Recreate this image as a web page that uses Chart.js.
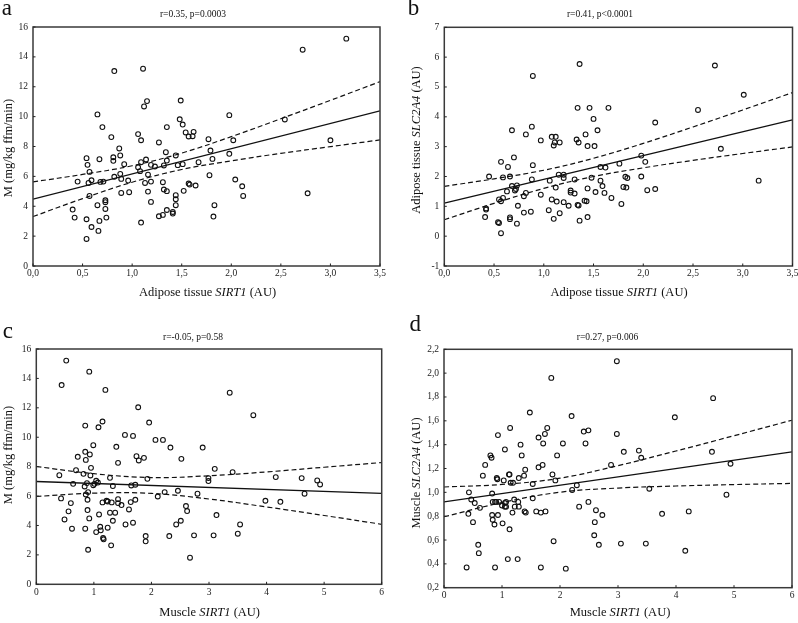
<!DOCTYPE html>
<html><head><meta charset="utf-8">
<script src="https://cdn.jsdelivr.net/npm/chart.js@4.4.0/dist/chart.umd.min.js"></script>
<style>
html,body{margin:0;padding:0;background:#fff;}
#wrap{position:relative;width:798px;height:623px;overflow:hidden;background:#fff;font-family:"Liberation Serif","Times New Roman",serif;color:#111;}
#wrap canvas{position:absolute;}
.t{position:absolute;white-space:nowrap;line-height:1;}
.letter{font-size:23px;}
.rt{font-size:9.5px;transform:translateX(-50%);}
.xt{font-size:12.5px;transform:translateX(-50%);}
.yt{font-size:12.5px;transform:translate(-50%,-50%) rotate(-90deg);}
</style></head>
<body>
<div id="wrap">
  <canvas id="ca" width="400" height="300" style="left:0;top:0"></canvas>
  <canvas id="cb" width="410" height="300" style="left:400px;top:0"></canvas>
  <canvas id="cc" width="400" height="323" style="left:0;top:300px"></canvas>
  <canvas id="cd" width="410" height="323" style="left:400px;top:300px"></canvas>

  <div class="t letter" style="left:1.7px;top:-4.3px">a</div>
  <div class="t letter" style="left:407.8px;top:-4.3px">b</div>
  <div class="t letter" style="left:2.8px;top:318.7px">c</div>
  <div class="t letter" style="left:409.5px;top:311.7px">d</div>

  <div class="t rt" style="left:193px;top:10.3px">r=0.35, p=0.0003</div>
  <div class="t rt" style="left:600px;top:10.3px">r=0.41, p&lt;0.0001</div>
  <div class="t rt" style="left:193px;top:333px">r=-0.05, p=0.58</div>
  <div class="t rt" style="left:607.5px;top:333px">r=0.27, p=0.006</div>

  <div class="t xt" style="left:207.5px;top:286.2px">Adipose tissue <i>SIRT1</i> (AU)</div>
  <div class="t xt" style="left:619px;top:286.2px">Adipose tissue <i>SIRT1</i> (AU)</div>
  <div class="t xt" style="left:209.7px;top:606px">Muscle <i>SIRT1</i> (AU)</div>
  <div class="t xt" style="left:620px;top:605.5px">Muscle <i>SIRT1</i> (AU)</div>

  <div class="t yt" style="left:7.8px;top:148.3px">M (mg/kg ffm/min)</div>
  <div class="t yt" style="left:415.8px;top:140px">Adipose tissue <i>SLC2A4</i> (AU)</div>
  <div class="t yt" style="left:7.8px;top:455px">M (mg/kg ffm/min)</div>
  <div class="t yt" style="left:415.8px;top:472.5px">Muscle <i>SLC2A4</i> (AU)</div>
</div>
<script>
// ---------- Panel a: adipose SIRT1 vs M ----------
const aSirt1 = [3.16,2.72,0.82,1.11,1.49,1.15,1.12,0.65,1.98,1.48,2.54,1.51,0.70,1.35,1.54,1.62,1.57,1.61,0.79,1.06,1.09,1.77,2.02,3.00,1.27,0.87,1.79,1.34,0.88,1.44,1.98,0.81,0.81,0.54,0.67,1.14,1.09,1.81,1.35,1.67,0.92,0.55,1.19,1.23,1.06,1.32,1.46,1.51,1.08,0.57,0.88,1.16,1.78,0.82,0.89,0.45,0.59,0.68,0.71,0.96,1.19,1.31,2.04,0.56,1.13,1.57,1.58,1.64,2.11,1.32,1.52,1.35,1.16,0.97,0.89,2.77,1.44,0.57,2.12,1.44,0.73,0.73,1.19,0.65,1.44,1.83,0.40,0.73,1.35,1.41,1.41,1.31,0.42,0.74,1.27,1.82,0.54,0.67,0.59,0.66,1.09,0.54];
const aM = [15.22,14.48,13.05,13.21,11.08,11.04,10.68,10.15,10.10,9.82,9.81,9.47,9.30,9.30,8.94,8.98,8.67,8.69,8.63,8.83,8.42,8.49,8.42,8.42,8.27,7.87,7.73,7.62,7.40,7.40,7.51,7.28,7.04,7.22,7.15,7.13,6.95,7.17,7.06,6.95,6.82,6.77,6.77,6.66,6.61,6.73,6.75,6.82,6.35,6.30,6.17,6.12,6.08,5.97,5.83,5.65,5.74,5.63,5.65,5.72,5.65,5.61,5.79,5.56,5.56,5.52,5.45,5.39,5.34,5.12,5.03,5.01,4.98,4.94,4.89,4.87,4.74,4.69,4.69,4.47,4.40,4.27,4.29,4.07,4.07,4.07,3.78,3.82,3.75,3.62,3.51,3.42,3.24,3.24,3.33,3.31,3.13,3.02,2.61,2.35,2.91,1.81];
const aFitX = [0, 3.5];
const aFitY = [4.47, 10.39];
const aBandX = [0, 0.5, 1, 1.5, 2, 2.5, 3, 3.5];
const aUpper = [5.63, 6.13, 6.71, 7.56, 8.66, 9.86, 11.09, 12.34];
const aLower = [3.31, 4.51, 5.61, 6.46, 7.04, 7.54, 7.99, 8.44];

// ---------- Panel b: adipose SIRT1 vs adipose SLC2A4 ----------
const bSirt1 = [0.89,1.36,2.72,3.01,2.55,1.34,1.46,1.65,2.12,1.50,1.54,0.68,0.88,0.82,1.42,0.97,1.08,1.12,1.33,1.35,1.10,1.11,1.16,1.44,1.51,2.78,0.70,1.98,0.57,2.02,1.76,0.89,0.64,1.57,1.62,0.45,0.59,0.66,1.15,1.20,1.98,1.82,1.84,1.20,1.48,0.88,1.06,1.31,1.57,3.16,0.68,0.73,1.59,1.80,1.83,1.12,0.71,0.72,0.63,1.27,1.27,1.44,2.04,2.12,1.52,0.82,1.31,1.61,0.80,0.59,1.68,0.97,0.55,0.57,1.08,1.41,1.43,1.13,1.20,1.78,0.74,1.25,1.34,1.35,0.42,0.42,0.80,0.87,1.05,1.16,0.66,0.41,1.44,0.66,1.10,1.36,0.54,0.55,0.73,0.57];
const bSlc2a4 = [5.37,5.77,5.72,4.74,4.23,4.30,4.30,4.30,3.81,3.93,3.55,3.55,3.67,3.41,3.41,3.21,3.33,3.33,3.24,3.14,3.04,3.14,3.14,3.02,3.02,2.93,2.64,2.70,2.49,2.49,2.43,2.38,2.32,2.32,2.30,2.00,1.97,2.00,2.06,2.06,2.00,1.99,1.95,1.95,1.96,1.90,1.86,1.90,1.86,1.86,1.68,1.70,1.68,1.65,1.63,1.63,1.53,1.58,1.50,1.53,1.46,1.60,1.54,1.58,1.48,1.45,1.43,1.45,1.34,1.28,1.28,1.39,1.23,1.17,1.23,1.19,1.17,1.16,1.14,1.08,1.02,1.02,1.05,1.03,0.93,0.89,0.79,0.82,0.87,0.77,0.63,0.64,0.64,0.57,0.58,0.52,0.47,0.44,0.42,0.10];
const bFitX = [0, 3.5];
const bFitY = [1.11, 3.90];
const bBandX = [0, 0.5, 1, 1.5, 2, 2.5, 3, 3.5];
const bUpper = [1.67, 1.92, 2.21, 2.61, 3.11, 3.66, 4.23, 4.81];
const bLower = [0.55, 1.10, 1.60, 2.00, 2.29, 2.54, 2.77, 2.99];

// ---------- Panel c: muscle SIRT1 vs M ----------
const cSirt1 = [0.52,0.44,0.92,1.20,3.36,1.77,3.77,0.85,1.15,1.08,1.96,1.54,1.68,2.07,2.20,0.99,1.39,2.33,2.89,0.85,0.93,0.72,0.86,1.74,1.78,1.87,2.52,1.42,0.95,0.69,0.40,0.82,0.94,3.10,3.41,1.28,1.93,2.99,2.99,4.16,4.61,4.88,4.93,1.04,1.07,0.88,0.64,1.01,0.99,0.84,1.33,1.65,1.72,0.90,0.86,0.43,2.23,2.46,2.80,2.11,4.66,0.60,0.89,1.15,1.22,1.24,1.31,1.42,1.42,1.48,1.64,1.72,1.61,2.60,2.62,3.98,4.24,0.56,0.89,1.09,1.28,1.37,0.49,0.92,1.33,1.55,1.68,2.51,2.43,3.13,3.54,0.62,0.85,1.11,1.12,1.24,1.04,1.16,1.17,1.30,0.90,1.90,1.90,2.31,2.74,3.08,3.50,2.67];
const cM = [15.21,13.55,14.46,13.22,13.03,12.04,11.50,10.79,11.07,10.68,11.00,10.16,10.09,9.82,9.82,9.46,9.35,9.30,9.30,9.01,8.83,8.67,8.46,8.71,8.42,8.60,8.53,8.26,7.92,7.76,7.42,7.51,7.40,7.85,7.63,7.24,7.17,7.22,7.02,7.29,7.22,7.06,6.79,7.04,6.92,6.88,6.83,6.83,6.74,6.65,6.68,6.72,6.77,6.27,6.11,5.84,6.27,6.36,6.16,5.97,6.16,5.52,5.75,5.57,5.68,5.63,5.57,5.79,5.52,5.39,5.59,5.75,5.09,5.32,4.98,5.68,5.61,4.96,5.05,4.75,4.87,4.87,4.41,4.48,4.32,4.07,4.19,4.32,4.07,4.71,4.07,3.78,3.78,3.91,3.67,3.85,3.55,3.15,3.06,2.65,2.35,3.28,2.92,3.28,3.33,3.33,3.44,1.81];
const cFitX = [0, 6];
const cFitY = [6.99, 6.18];
const cBandX = [0, 1, 2, 3, 4, 5, 6];
const cUpper = [8.01, 7.52, 7.26, 7.38, 7.64, 7.96, 8.28];
const cLower = [5.97, 6.20, 6.18, 5.80, 5.26, 4.68, 4.08];

// ---------- Panel d: muscle SIRT1 vs muscle SLC2A4 ----------
const dSirt1 = [2.98,1.85,4.64,1.48,2.20,3.98,1.14,1.78,2.41,2.49,0.93,1.74,2.98,1.63,1.71,2.05,2.44,1.32,1.05,3.10,3.36,4.62,1.34,1.95,0.80,0.82,3.40,0.71,1.70,1.63,2.88,4.94,1.40,0.67,1.13,1.12,1.38,1.87,0.91,0.92,1.29,1.03,1.92,1.15,1.19,1.53,2.29,3.54,2.21,0.43,0.83,0.47,1.21,1.53,0.53,0.84,0.88,0.90,0.95,1.05,1.07,1.28,2.49,1.00,1.05,1.07,1.22,1.29,4.87,0.62,2.33,0.42,1.18,1.39,1.41,1.59,1.67,1.75,2.62,2.73,3.76,4.22,0.83,0.93,0.50,0.84,2.60,0.87,1.01,1.13,2.59,1.89,0.59,2.67,3.05,3.48,0.60,4.16,1.10,1.27,0.39,0.88,1.67,2.10];
const dSlc2a4 = [2.10,1.96,1.79,1.67,1.64,1.63,1.54,1.54,1.51,1.52,1.48,1.49,1.49,1.46,1.41,1.41,1.41,1.40,1.36,1.34,1.35,1.34,1.31,1.31,1.31,1.29,1.29,1.23,1.23,1.21,1.23,1.24,1.19,1.14,1.15,1.15,1.14,1.15,1.12,1.11,1.12,1.10,1.10,1.08,1.08,1.07,1.06,1.03,1.02,1.00,0.99,0.94,0.94,0.95,0.91,0.92,0.92,0.92,0.92,0.91,0.92,0.92,0.92,0.89,0.88,0.88,0.88,0.88,0.98,0.87,0.88,0.82,0.83,0.84,0.83,0.84,0.83,0.84,0.85,0.81,0.82,0.84,0.81,0.81,0.75,0.77,0.75,0.73,0.74,0.69,0.64,0.59,0.56,0.56,0.57,0.57,0.49,0.51,0.44,0.44,0.37,0.37,0.37,0.36];
const dFitX = [0, 6];
const dFitY = [0.92, 1.34];
const dBandX = [0, 1, 2, 3, 4, 5, 6];
const dUpper = [1.045, 1.066, 1.119, 1.224, 1.347, 1.475, 1.605];
const dLower = [0.795, 0.914, 1.001, 1.036, 1.053, 1.065, 1.075];

// ---------- tick values and labels ----------
const adiposeXTicks = [0, 0.5, 1, 1.5, 2, 2.5, 3, 3.5];
const adiposeXLabels = ['0,0','0,5','1,0','1,5','2,0','2,5','3,0','3,5'];
const muscleXTicks = [0, 1, 2, 3, 4, 5, 6];
const muscleXLabels = ['0','1','2','3','4','5','6'];
const mYTicks = [0, 2, 4, 6, 8, 10, 12, 14, 16];
const mYLabels = ['0','2','4','6','8','10','12','14','16'];
const bYTicks = [-1, 0, 1, 2, 3, 4, 5, 6, 7];
const bYLabels = ['-1','0','1','2','3','4','5','6','7'];
const dYTicks = [0.2, 0.4, 0.6, 0.8, 1.0, 1.2, 1.4, 1.6, 1.8, 2.0, 2.2];
const dYLabels = ['0,2','0,4','0,6','0,8','1,0','1,2','1,4','1,6','1,8','2,0','2,2'];

const zip = (xs, ys) => xs.map((x, i) => ({x: x, y: ys[i]}));
const FONT = 'Liberation Serif';

const framePlugin = {
  id: 'frame',
  afterDatasetsDraw(chart) {
    const {ctx, chartArea: a, scales} = chart;
    ctx.save();
    ctx.strokeStyle = '#3a3a3a';
    ctx.lineWidth = 1.5;
    ctx.strokeRect(a.left, a.top, a.right - a.left, a.bottom - a.top);
    ctx.lineWidth = 1;
    ctx.strokeStyle = '#222';
    ctx.beginPath();
    scales.x.ticks.forEach(t => {
      const px = scales.x.getPixelForValue(t.value);
      ctx.moveTo(px, a.bottom); ctx.lineTo(px, a.bottom - 2.5);
    });
    scales.y.ticks.forEach(t => {
      const py = scales.y.getPixelForValue(t.value);
      ctx.moveTo(a.left, py); ctx.lineTo(a.left + 2.5, py);
    });
    ctx.stroke();
    ctx.restore();
  }
};

function panel(id, o) {
  const lineBase = {type: 'line', borderColor: '#111', pointRadius: 0, fill: false, order: 1};
  return new Chart(document.getElementById(id), {
    type: 'scatter',
    data: {datasets: [
      {data: zip(o.xs, o.ys), pointRadius: 2.4, pointBorderWidth: 1.1, pointBorderColor: '#111',
       pointBackgroundColor: 'rgba(255,255,255,0)', showLine: false, order: 0},
      Object.assign({}, lineBase, {data: zip(o.fitX, o.fitY), borderWidth: 1.3}),
      Object.assign({}, lineBase, {data: zip(o.bandX, o.upper), borderWidth: 1.2, borderDash: [5, 3], tension: 0.4}),
      Object.assign({}, lineBase, {data: zip(o.bandX, o.lower), borderWidth: 1.2, borderDash: [5, 3], tension: 0.4})
    ]},
    options: {
      responsive: false, animation: false, devicePixelRatio: 1,
      layout: {padding: o.pad},
      plugins: {legend: {display: false}, tooltip: {enabled: false}, title: {display: false}},
      scales: {
        x: {
          type: 'linear', min: o.xMin, max: o.xMax,
          grid: {display: false, drawTicks: false}, border: {display: false},
          afterBuildTicks: s => { s.ticks = o.xTicks.map(v => ({value: v})); },
          afterFit: s => { s.height = 24; },
          ticks: {callback: (v, i) => o.xLabels[i], padding: 2, autoSkip: false, maxRotation: 0,
                  color: '#222', font: {family: FONT, size: 9.5}}
        },
        y: {
          type: 'linear', min: o.yMin, max: o.yMax,
          grid: {display: false, drawTicks: false}, border: {display: false},
          afterBuildTicks: s => { s.ticks = o.yTicks.map(v => ({value: v})); },
          afterFit: s => { s.width = 30; },
          ticks: {callback: (v, i) => o.yLabels[i], padding: 5, autoSkip: false,
                  color: '#222', font: {family: FONT, size: 9.5}}
        }
      }
    },
    plugins: [framePlugin]
  });
}

panel('ca', {xs: aSirt1, ys: aM, fitX: aFitX, fitY: aFitY, bandX: aBandX, upper: aUpper, lower: aLower,
  xMin: 0, xMax: 3.5, yMin: 0, yMax: 16, xTicks: adiposeXTicks, xLabels: adiposeXLabels, yTicks: mYTicks, yLabels: mYLabels,
  pad: {left: 3, top: 27, right: 20, bottom: 10}});
panel('cb', {xs: bSirt1, ys: bSlc2a4, fitX: bFitX, fitY: bFitY, bandX: bBandX, upper: bUpper, lower: bLower,
  xMin: 0, xMax: 3.5, yMin: -1, yMax: 7, xTicks: adiposeXTicks, xLabels: adiposeXLabels, yTicks: bYTicks, yLabels: bYLabels,
  pad: {left: 14.3, top: 27.3, right: 17.5, bottom: 10}});
panel('cc', {xs: cSirt1, ys: cM, fitX: cFitX, fitY: cFitY, bandX: cBandX, upper: cUpper, lower: cLower,
  xMin: 0, xMax: 6, yMin: 0, yMax: 16, xTicks: muscleXTicks, xLabels: muscleXLabels, yTicks: mYTicks, yLabels: mYLabels,
  pad: {left: 6.3, top: 49, right: 18.3, bottom: 14.7}});
panel('cd', {xs: dSirt1, ys: dSlc2a4, fitX: dFitX, fitY: dFitY, bandX: dBandX, upper: dUpper, lower: dLower,
  xMin: 0, xMax: 6, yMin: 0.2, yMax: 2.2, xTicks: muscleXTicks, xLabels: muscleXLabels, yTicks: dYTicks, yLabels: dYLabels,
  pad: {left: 14, top: 49.3, right: 18, bottom: 11.3}});
</script>
</body></html>
